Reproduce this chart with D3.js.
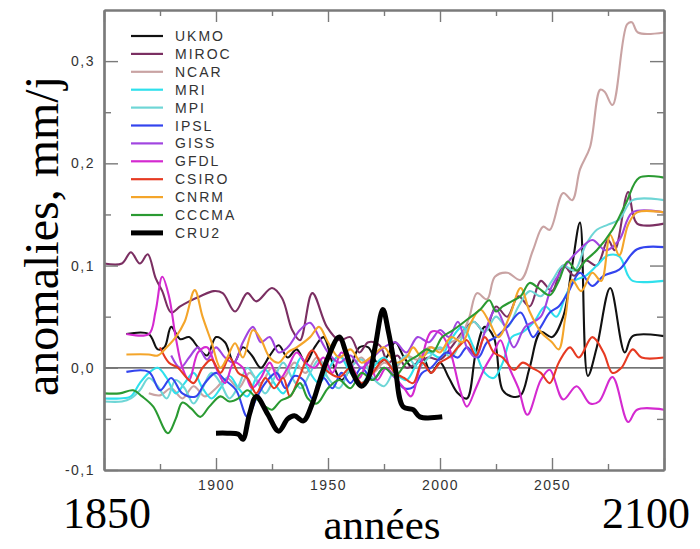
<!DOCTYPE html>
<html>
<head>
<meta charset="utf-8">
<script src="https://cdn.jsdelivr.net/npm/d3@7"></script>
<style>
  body { margin: 0; background: #fff; }
  svg { display: block; }
</style>
</head>
<body>
<svg id="chart" width="700" height="549"></svg>
<script>
// Model names and line colours, in legend order
const models = ["UKMO", "MIROC", "NCAR", "MRI", "MPI", "IPSL", "GISS", "GFDL", "CSIRO", "CNRM", "CCCMA", "CRU2"];
const colors = ["#111111", "#7b2f62", "#c9a3a3", "#2fe0ec", "#6fd6d6", "#3344ee", "#a145e0", "#d42ad0", "#e63a22", "#f4a52a", "#2a9a32", "#000000"];

// Precipitation anomalies (mm/j) per model, [year, value]
const ukmo = [[1860,0.033],[1870,0.033],[1874,0.018],[1877,0.02],[1880,0.04],[1884,0.028],[1888,0.03],[1892,0.02],[1896,0.012],[1900,0.03],[1904,0.025],[1908,0.005],[1912,0.02],[1916,0.012],[1920,0.0],[1924,0.012],[1928,0.022],[1932,0.01],[1936,0.018],[1940,0.005],[1944,0.02],[1948,0.03],[1952,0.005],[1956,-0.012],[1960,0.0],[1964,0.02],[1968,0.02],[1972,0.005],[1976,0.01],[1980,0.025],[1984,0.01],[1988,0.0],[1992,0.012],[1996,-0.005],[2000,0.005],[2004,-0.01],[2008,-0.025],[2012,-0.03],[2016,0.015],[2020,0.04],[2024,0.03],[2028,-0.022],[2032,-0.028],[2036,-0.027],[2040,0.0],[2045,0.035],[2050,0.03],[2055,0.05],[2059,0.1],[2062.5,0.142],[2066,-0.008],[2070,0.02],[2076,0.078],[2082.5,0.015],[2086,0.031],[2100,0.031]];
const miroc = [[1850,0.102],[1858,0.102],[1862,0.113],[1866,0.102],[1869.5,0.111],[1873,0.088],[1876,0.075],[1880,0.054],[1884,0.06],[1888,0.065],[1893,0.07],[1899,0.075],[1903,0.073],[1908.5,0.055],[1914,0.073],[1918,0.065],[1925,0.078],[1929.5,0.068],[1934,0.037],[1937.5,0.027],[1943,0.073],[1949.5,0.04],[1955,0.027],[1960,0.03],[1964,0.015],[1968,0.025],[1973,0.022],[1977,0.005],[1981,0.012],[1985,0.0],[1990,0.005],[1995,0.01],[2000,0.008],[2005,0.02],[2010,0.035],[2015,0.045],[2020,0.035],[2025,0.06],[2030,0.05],[2035,0.07],[2040,0.06],[2045,0.085],[2050,0.075],[2055,0.1],[2060,0.09],[2065,0.105],[2070,0.1],[2075,0.125],[2078,0.115],[2084,0.172],[2088,0.141],[2100,0.141]];
const ncar = [[1870,-0.025],[1875,-0.027],[1880,-0.02],[1885,-0.03],[1890,-0.018],[1895,-0.028],[1900,-0.02],[1905,-0.01],[1910,-0.02],[1915,-0.005],[1920,-0.015],[1925,0.0],[1930,-0.01],[1935,0.005],[1940,-0.005],[1945,0.01],[1950,0.0],[1955,0.012],[1960,0.002],[1965,0.01],[1970,-0.005],[1975,0.005],[1980,0.0],[1985,0.012],[1990,0.008],[1995,0.02],[2000,0.018],[2005,0.025],[2009,0.03],[2013,0.049],[2016.5,0.073],[2021,0.067],[2024.5,0.089],[2030,0.093],[2036,0.086],[2041.5,0.115],[2046,0.138],[2049,0.135],[2055,0.171],[2059,0.164],[2062.5,0.194],[2067,0.216],[2071.5,0.272],[2073.5,0.27],[2077,0.257],[2083.5,0.336],[2085.7,0.338],[2088.4,0.328],[2100,0.328]];
const mri = [[1850,-0.03],[1857,-0.03],[1862,-0.028],[1866,-0.015],[1870,-0.005],[1874,0.0],[1878,-0.01],[1882,-0.025],[1886,-0.015],[1890,-0.005],[1894,-0.02],[1898,-0.03],[1902,-0.02],[1906,-0.008],[1910,-0.02],[1914,-0.028],[1918,-0.01],[1922,-0.002],[1926,-0.015],[1930,-0.025],[1934,-0.01],[1938,0.01],[1942,-0.005],[1946,-0.015],[1950,-0.002],[1955,0.012],[1960,-0.005],[1965,-0.015],[1970,0.0],[1975,0.01],[1980,-0.005],[1985,-0.012],[1990,0.005],[1995,0.015],[2000,0.01],[2005,0.028],[2010,0.04],[2015,0.02],[2020,-0.005],[2024,-0.01],[2028,0.005],[2032,0.03],[2037,0.035],[2042,0.045],[2047,0.06],[2052,0.05],[2056,0.07],[2060,0.085],[2065,0.09],[2070,0.1],[2075,0.11],[2080,0.109],[2084,0.09],[2086,0.085],[2100,0.085]];
const mpi = [[1850,-0.033],[1858,-0.033],[1862,-0.03],[1866,-0.022],[1870,-0.01],[1874,-0.018],[1878,-0.03],[1882,-0.012],[1886,-0.02],[1890,-0.035],[1894,-0.02],[1898,-0.005],[1902,-0.015],[1906,-0.03],[1910,-0.018],[1914,0.0],[1918,-0.012],[1922,-0.025],[1926,-0.01],[1930,0.005],[1934,-0.01],[1938,-0.02],[1942,-0.005],[1946,0.008],[1950,-0.01],[1955,-0.02],[1960,0.0],[1965,0.008],[1970,-0.01],[1975,-0.018],[1980,0.0],[1985,0.012],[1990,0.0],[1995,0.01],[2000,0.02],[2005,0.01],[2010,0.03],[2015,0.045],[2020,0.035],[2025,0.05],[2030,0.04],[2035,0.06],[2040,0.075],[2045,0.07],[2050,0.085],[2055,0.1],[2060,0.095],[2065,0.12],[2070,0.135],[2075,0.14],[2080,0.145],[2086,0.164],[2100,0.164]];
const ipsl = [[1860,-0.004],[1870,-0.004],[1875,-0.022],[1880,-0.01],[1885,-0.025],[1891,-0.028],[1895,-0.015],[1900,-0.005],[1904,-0.012],[1909,-0.022],[1914,-0.048],[1918,-0.03],[1922,-0.015],[1927,-0.005],[1931,-0.02],[1935,-0.008],[1939,-0.012],[1943,-0.03],[1948,-0.01],[1952,-0.02],[1956,-0.005],[1960,-0.015],[1965,0.0],[1970,-0.012],[1975,0.0],[1980,-0.01],[1984,-0.02],[1988,-0.019],[1992,-0.005],[1996,0.0],[2003,0.015],[2008,0.01],[2012,0.02],[2017,0.01],[2021,0.025],[2025,0.03],[2030,0.04],[2036,0.054],[2041.5,0.03],[2045,0.04],[2049,0.054],[2053,0.06],[2057,0.073],[2062.5,0.093],[2068,0.08],[2073,0.09],[2080,0.096],[2088,0.116],[2100,0.118]];
const giss = [[1880,0.012],[1884,0.0],[1888,0.01],[1892,0.02],[1896,0.008],[1900,0.02],[1904,0.01],[1908,0.005],[1912,0.025],[1916.5,0.04],[1920,0.025],[1924,0.03],[1928,0.015],[1932,0.02],[1937.5,0.037],[1942,0.044],[1946,0.03],[1950,0.015],[1955,0.005],[1960,0.012],[1965,0.0],[1970,0.01],[1975,0.02],[1980,0.025],[1985,0.015],[1990,0.03],[1995,0.025],[2000,0.037],[2004,0.03],[2008,0.045],[2012,0.02],[2016,0.01],[2020,0.035],[2025,0.057],[2029,0.04],[2033,0.02],[2038,0.04],[2045,0.05],[2050,0.08],[2057,0.103],[2062.5,0.116],[2068,0.125],[2074,0.115],[2080,0.125],[2086,0.152],[2100,0.152]];
const gfdl = [[1860,0.033],[1870,0.033],[1873,0.055],[1876,0.089],[1879,0.07],[1882,0.03],[1885,0.0],[1888,-0.012],[1892,0.015],[1896,0.02],[1900,0.0],[1904,-0.015],[1908,0.005],[1912,0.0],[1916,-0.02],[1920,-0.01],[1924,0.005],[1928,-0.012],[1932,0.0],[1936,0.015],[1940,0.005],[1944,0.0],[1948,0.01],[1952,-0.005],[1956,0.015],[1960,0.005],[1964,-0.01],[1968,0.008],[1972,-0.012],[1976,0.0],[1980,-0.01],[1984,-0.02],[1987,-0.028],[1991,0.0],[1996,0.035],[2000,0.034],[2004,0.02],[2009,-0.022],[2012,-0.038],[2016,-0.02],[2020,0.0],[2024,0.015],[2027,0.027],[2031,0.0],[2035,-0.02],[2039,-0.046],[2045,-0.012],[2049,-0.002],[2055,-0.031],[2061,-0.018],[2067,-0.035],[2071,-0.033],[2077,-0.009],[2084,-0.053],[2088,-0.041],[2100,-0.041]];
const csiro = [[1875,0.02],[1879,0.005],[1883,0.0],[1887,-0.01],[1890,-0.015],[1894,0.0],[1898,0.008],[1902,-0.005],[1906,0.01],[1910,-0.005],[1914,-0.01],[1918,-0.025],[1922,-0.01],[1926,-0.02],[1930,-0.01],[1933,-0.028],[1937,-0.01],[1943,0.017],[1948,0.0],[1955,-0.009],[1960,0.0],[1965,-0.015],[1970,-0.005],[1975,0.008],[1980,-0.005],[1984,-0.01],[1988,-0.015],[1992,0.005],[1996,-0.005],[2000,0.005],[2004.5,0.011],[2008,0.02],[2012,0.027],[2016,0.012],[2020,0.03],[2024,0.015],[2028,0.01],[2033,-0.002],[2037,0.005],[2041,0.0],[2045,-0.005],[2049,-0.015],[2053,0.005],[2058,0.02],[2062,0.01],[2068,0.03],[2073,0.015],[2077,-0.005],[2081,0.0],[2086,0.018],[2090,0.01],[2100,0.01]];
const cnrm = [[1860,0.013],[1870,0.013],[1874,0.012],[1878,0.02],[1882,0.03],[1886,0.045],[1890.5,0.076],[1894,0.05],[1898,0.025],[1902,0.0],[1905,0.01],[1908.5,0.024],[1912,0.01],[1916.5,0.037],[1920,0.028],[1924,0.01],[1928,0.005],[1932,0.015],[1936,0.02],[1942,0.03],[1946,0.04],[1950,0.025],[1955,0.01],[1960,0.018],[1965,0.005],[1970,0.012],[1975,0.02],[1980,0.005],[1985,0.01],[1988,0.02],[1992,0.01],[1996,0.02],[2000,0.015],[2005,0.03],[2010,0.025],[2014,0.045],[2018,0.057],[2022,0.045],[2026,0.03],[2031,0.05],[2036,0.078],[2040,0.055],[2045,0.035],[2050,0.025],[2053,0.018],[2056,0.05],[2059,0.086],[2063,0.075],[2068,0.093],[2072,0.085],[2076,0.13],[2080,0.11],[2084,0.14],[2088,0.152],[2100,0.152]];
const cccma = [[1850,-0.025],[1857,-0.025],[1863,-0.022],[1867,-0.028],[1872,-0.038],[1878.5,-0.064],[1882,-0.05],[1885,-0.034],[1889,-0.04],[1893,-0.048],[1897,-0.038],[1902,-0.028],[1906,-0.033],[1910,-0.03],[1914,-0.022],[1918,-0.03],[1922,-0.038],[1925,-0.041],[1929,-0.032],[1933,-0.028],[1937.5,-0.015],[1941,-0.03],[1945,-0.035],[1950,-0.02],[1955,-0.012],[1960,-0.02],[1965,-0.005],[1970,-0.012],[1975,0.0],[1980,-0.008],[1985,0.005],[1990,0.012],[1994,0.018],[1997,0.016],[2001,0.03],[2006,0.037],[2012,0.047],[2018,0.057],[2022,0.066],[2025,0.055],[2028,0.06],[2032,0.065],[2036,0.07],[2040,0.083],[2044,0.078],[2049,0.071],[2053,0.085],[2057,0.104],[2061,0.095],[2065,0.105],[2070,0.115],[2077,0.135],[2083,0.161],[2089,0.186],[2100,0.186]];
// Observations (CRU2), 1900-2000
const cru2 = [[1900,-0.064],[1905,-0.064],[1910,-0.065],[1912,-0.07],[1915,-0.045],[1918,-0.028],[1923,-0.045],[1928,-0.062],[1932,-0.05],[1935,-0.047],[1939,-0.052],[1943,-0.035],[1946,-0.015],[1950,0.01],[1955,0.03],[1958,0.015],[1961,-0.005],[1965,-0.018],[1968,-0.01],[1971,0.02],[1974.5,0.057],[1977,0.035],[1980,0.0],[1983.5,-0.038],[1988,-0.041],[1991,-0.048],[2001,-0.048]];

const seriesData = [ukmo, miroc, ncar, mri, mpi, ipsl, giss, gfdl, csiro, cnrm, cccma, cru2];

// Axis ticks and labels
const yearMajor = [1850, 1900, 1950, 2000, 2050, 2100];
const yearMinor = [1875, 1925, 1975, 2025, 2075];
const yearLabels = [1900, 1950, 2000, 2050];
const valueMajor = [-0.1, 0, 0.1, 0.2, 0.3];
const valueMinor = [-0.05, 0.05, 0.15, 0.25];

const svg = d3.select("#chart");
const plotLeft = 104, plotRight = 664, plotTop = 10, plotBottom = 470;

const x = d3.scaleLinear().domain([1850, 2100]).range([plotLeft, plotRight]);
const y = d3.scaleLinear().domain([-0.1, 0.35]).range([plotBottom, plotTop]);

const fr = d3.formatLocale({decimal: ",", thousands: " ", grouping: [3], currency: ["", " €"], minus: "-"});
const fmt1 = fr.format(".1f");

const frameColor = "#7a7a7a";
const smallFont = "'Liberation Sans', Arial, sans-serif";

// Zero reference line
svg.append("line")
  .attr("x1", plotLeft).attr("x2", plotRight)
  .attr("y1", y(0)).attr("y2", y(0))
  .attr("stroke", "#444").attr("stroke-width", 1.2);

// Model curves
const line = d3.line()
  .x(d => x(d[0]))
  .y(d => y(d[1]))
  .curve(d3.curveCatmullRom.alpha(0.5));

const plot = svg.append("g");
models.forEach((m, i) => {
  plot.append("path")
    .datum(seriesData[i])
    .attr("fill", "none")
    .attr("stroke", colors[i])
    .attr("stroke-width", m === "CRU2" ? 5 : 2.1)
    .attr("stroke-linejoin", "round")
    .attr("d", line);
});

// Frame and inward ticks
function styleAxis(g) {
  g.selectAll("path.domain").attr("stroke", frameColor).attr("stroke-width", 2.2);
  g.selectAll(".tick line").attr("stroke", frameColor).attr("stroke-width", 1.4);
  g.selectAll(".tick text").attr("fill", "#333")
    .style("font-family", smallFont).style("font-size", "14px").style("letter-spacing", "1.5px");
}

svg.append("g").attr("transform", `translate(0,${plotBottom})`)
  .call(d3.axisBottom(x).tickValues(yearMajor).tickSizeInner(-12).tickSizeOuter(0).tickPadding(10)
    .tickFormat(d => yearLabels.includes(d) ? d : ""))
  .call(styleAxis);
svg.append("g").attr("transform", `translate(0,${plotBottom})`)
  .call(d3.axisBottom(x).tickValues(yearMinor).tickSizeInner(-6).tickSizeOuter(0).tickFormat(""))
  .call(styleAxis);
svg.append("g").attr("transform", `translate(0,${plotTop})`)
  .call(d3.axisTop(x).tickValues(yearMajor).tickSizeInner(-12).tickSizeOuter(0).tickFormat(""))
  .call(styleAxis);
svg.append("g").attr("transform", `translate(0,${plotTop})`)
  .call(d3.axisTop(x).tickValues(yearMinor).tickSizeInner(-6).tickSizeOuter(0).tickFormat(""))
  .call(styleAxis);

svg.append("g").attr("transform", `translate(${plotLeft},0)`)
  .call(d3.axisLeft(y).tickValues(valueMajor).tickSizeInner(-14).tickSizeOuter(0).tickPadding(9)
    .tickFormat(d => fmt1(d)))
  .call(styleAxis);
svg.append("g").attr("transform", `translate(${plotLeft},0)`)
  .call(d3.axisLeft(y).tickValues(valueMinor).tickSizeInner(-7).tickSizeOuter(0).tickFormat(""))
  .call(styleAxis);
svg.append("g").attr("transform", `translate(${plotRight},0)`)
  .call(d3.axisRight(y).tickValues(valueMajor).tickSizeInner(-14).tickSizeOuter(0).tickFormat(""))
  .call(styleAxis);
svg.append("g").attr("transform", `translate(${plotRight},0)`)
  .call(d3.axisRight(y).tickValues(valueMinor).tickSizeInner(-7).tickSizeOuter(0).tickFormat(""))
  .call(styleAxis);

// Legend
const legend = svg.append("g").attr("transform", "translate(131,36)");
models.forEach((m, i) => {
  const row = legend.append("g").attr("transform", `translate(0,${i * 17.9})`);
  row.append("line").attr("x1", 0).attr("x2", 32).attr("y1", 0).attr("y2", 0)
    .attr("stroke", colors[i]).attr("stroke-width", m === "CRU2" ? 5 : 2.2);
  row.append("text").attr("x", 44).attr("y", 5)
    .attr("fill", "#333")
    .style("font-family", smallFont).style("font-size", "14px").style("letter-spacing", "2px")
    .text(m);
});

// Large axis titles
const serif = "'Liberation Serif', 'Times New Roman', serif";
svg.append("text")
  .attr("transform", "translate(58,236) rotate(-90)")
  .attr("text-anchor", "middle")
  .style("font-family", serif).style("font-size", "48px").attr("fill", "#000")
  .text("anomalies, mm/j");
svg.append("text").attr("x", 63).attr("y", 528)
  .style("font-family", serif).style("font-size", "44px").attr("fill", "#000")
  .text("1850");
svg.append("text").attr("x", 690).attr("y", 528).attr("text-anchor", "end")
  .style("font-family", serif).style("font-size", "44px").attr("fill", "#000")
  .text("2100");
svg.append("text").attr("x", 382).attr("y", 539).attr("text-anchor", "middle")
  .style("font-family", serif).style("font-size", "43px").attr("fill", "#000")
  .text("années");
</script>
</body>
</html>
